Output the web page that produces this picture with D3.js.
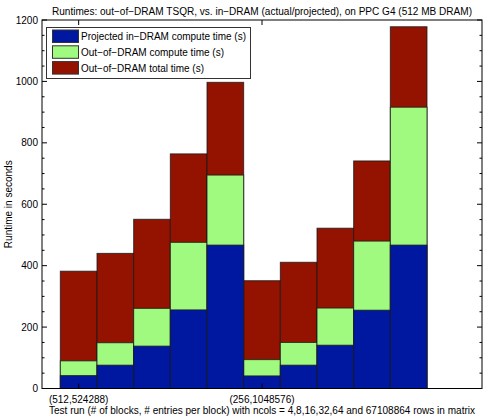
<!DOCTYPE html>
<html><head><meta charset="utf-8">
<script src="https://cdn.jsdelivr.net/npm/d3@7"></script>
<style>body{margin:0;background:#fff}svg{display:block;font-family:"Liberation Sans",Arial,sans-serif}</style>
</head><body><svg id="c" width="487" height="419"></svg>
<script>
const runs = [1,2,3,4,5,6,7,8,9,10];
const projectedInDram = [42,76,138,256,467,41,76,141,255,467];
const outOfDramCompute = [90,149,261,476,695,94,150,262,480,916];
const outOfDramTotal = [382,440,551,764,997,351,411,522,741,1178];
const xTickPos = [1,6];
const xTickLabels = ["(512,524288)","(256,1048576)"];
const yTicks = [0,200,400,600,800,1000,1200];
const seriesNames = ["Projected in\u2212DRAM compute time (s)","Out\u2212of\u2212DRAM compute time (s)","Out\u2212of\u2212DRAM total time (s)"];
const colors = ["#00189f","#a0fa80","#941200"];

const svg = d3.select("#c");
const L=42, R=482, T=20, B=388.5;
const x = d3.scaleLinear().domain([0,12]).range([L,R]);
const y = d3.scaleLinear().domain([0,1200]).range([B,T]);
const bw = x(1)-x(0);
const FS = 10;

const layers = [[outOfDramTotal,colors[2]],[outOfDramCompute,colors[1]],[projectedInDram,colors[0]]];
layers.forEach(([vals,col])=>{
  svg.append("g").selectAll("rect").data(runs).join("rect")
    .attr("x",d=>x(d-0.5)).attr("width",bw)
    .attr("y",(d,i)=>y(vals[i])).attr("height",(d,i)=>y(0)-y(vals[i]))
    .attr("fill",col).attr("stroke","#1a1a1a").attr("stroke-opacity",0.8).attr("stroke-width",1);
});

const g = svg.append("g");
g.append("rect").attr("x",L).attr("y",T).attr("width",R-L).attr("height",B-T)
  .attr("fill","none").attr("stroke","#000").attr("stroke-width",1);

d3.range(0,1201,50).forEach(v=>{
  const len = v%200===0?5:2.5;
  g.append("line").attr("x1",L).attr("x2",L+len).attr("y1",y(v)).attr("y2",y(v)).attr("stroke","#000");
  g.append("line").attr("x1",R).attr("x2",R-len).attr("y1",y(v)).attr("y2",y(v)).attr("stroke","#000");
});
yTicks.forEach(v=>{
  g.append("text").attr("x",L-4).attr("y",y(v)).attr("dy","0.35em").attr("text-anchor","end")
   .attr("font-size",FS).text(v);
});
xTickPos.forEach((p,i)=>{
  g.append("line").attr("x1",x(p)).attr("x2",x(p)).attr("y1",B).attr("y2",B-5).attr("stroke","#000");
  g.append("line").attr("x1",x(p)).attr("x2",x(p)).attr("y1",T).attr("y2",T+5).attr("stroke","#000");
  g.append("text").attr("x",x(p)).attr("y",403).attr("text-anchor","middle").attr("font-size",FS).text(xTickLabels[i]);
});

svg.append("text").attr("x",262).attr("y",14.5).attr("text-anchor","middle").attr("font-size",FS)
  .attr("textLength",420).attr("lengthAdjust","spacingAndGlyphs")
  .text("Runtimes: out\u2212of\u2212DRAM TSQR, vs. in\u2212DRAM (actual/projected), on PPC G4 (512 MB DRAM)");
svg.append("text").attr("x",262).attr("y",414).attr("text-anchor","middle").attr("font-size",FS)
  .attr("textLength",426).attr("lengthAdjust","spacingAndGlyphs")
  .text("Test run (# of blocks, # entries per block) with ncols = 4,8,16,32,64 and 67108864 rows in matrix");
svg.append("text").attr("transform",`translate(12,${(T+B)/2}) rotate(-90)`).attr("text-anchor","middle").attr("font-size",FS)
  .text("Runtime in seconds");

const lg = svg.append("g");
lg.append("rect").attr("x",46.5).attr("y",27.5).attr("width",204).attr("height",51)
  .attr("fill","#fff").attr("stroke","#333").attr("stroke-width",1);
const legLens = [165,143,123];
seriesNames.forEach((n,i)=>{
  const yy = 30+i*15.8;
  lg.append("rect").attr("x",52.5).attr("y",yy).attr("width",26).attr("height",12.5)
    .attr("fill",colors[i]).attr("stroke","#333").attr("stroke-width",1);
  lg.append("text").attr("x",81).attr("y",yy+6.5).attr("dy","0.35em").attr("font-size",FS)
    .attr("textLength",legLens[i]).attr("lengthAdjust","spacingAndGlyphs").text(n);
});
</script></body></html>
